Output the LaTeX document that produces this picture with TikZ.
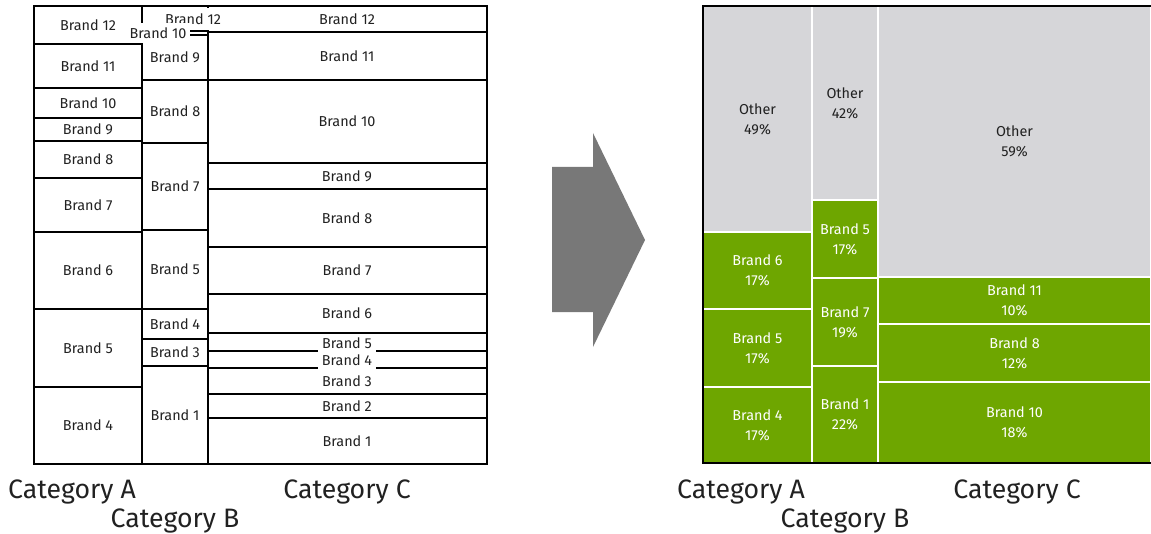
\documentclass[tikz,border=0pt]{standalone}
\usepackage{fontspec}
\setmainfont{Fira Sans}
\usetikzlibrary{calc}
\definecolor{BrandClr}{rgb}{0.43,0.65,0}
\definecolor{OtherClr}{rgb}{0.84,0.84,0.85}
\definecolor{ArrowClr}{rgb}{0.47,0.47,0.47}
\definecolor{TextClr}{rgb}{0.13,0.13,0.13}

\begin{document}
\begin{tikzpicture}[x=0.75pt,y=-0.75pt,
  box/.style={line width=1.5pt},
  lbl/.style={font=\fontsize{10.8}{13}\selectfont,text=TextClr,inner sep=0pt},
  cut/.style={lbl,fill=white,inner xsep=3pt},
  cell/.style={draw=white,line width=1.5pt},
  val/.style={font=\fontsize{10.8}{15}\selectfont,align=center},
  cat/.style={font=\fontsize{20}{22}\selectfont,text=TextClr,anchor=base}]
\useasboundingbox (0,0) rectangle (1151,534);

% before: brands of each category
\foreach \ya/\yb/\txt [count=\i] in {6/44/Brand 12,44/88/Brand 11,88/118/Brand 10,
    118/141/Brand 9,141/178/Brand 8,178/232/Brand 7,232/309/Brand 6,
    309/387/Brand 5,387/464/Brand 4}
  {\draw[box] (34,\ya) rectangle (142,\yb);
   \node[lbl] (a\i) at (88,{(\ya+\yb)/2}) {\txt};}

\foreach \ya/\yb/\txt [count=\i] in {35/80/Brand 9,80/143/Brand 8,143/230/Brand 7,
    230/309/Brand 5,309/339/Brand 4,339/366/Brand 3,366/464/Brand 1}
  {\draw[box] (142,\ya) rectangle (208,\yb);
   \node[lbl] (b\i) at (175,{(\ya+\yb)/2}) {\txt};}
\draw[box] (142,6) rectangle (208,31);
\draw[box] (142,31) rectangle (208,35);

\foreach \ya/\yb/\txt [count=\i] in {6/32/Brand 12,32/80/Brand 11,80/163/Brand 10,
    163/189/Brand 9,189/247/Brand 8,247/294/Brand 7,294/333/Brand 6,
    368/394/Brand 3,394/418/Brand 2,418/464/Brand 1}
  {\draw[box] (208,\ya) rectangle (487,\yb);
   \node[lbl] (c\i) at (347,{(\ya+\yb)/2}) {\txt};}
\draw[box] (208,333) rectangle (487,351);
\draw[box] (208,351) rectangle (487,368);

% labels that sit over the lines
\node[cut,minimum height=16.5pt] (b12) at (193,19) {Brand 12};
\node[cut,minimum height=14.5pt] (b10) at (158,33) {Brand 10};
\node[cut,minimum height=12pt] (c5) at (347,343) {Brand 5};
\node[cut,minimum height=13.5pt] (c4) at (347,360) {Brand 4};

\node[cat] (catA) at (72,498) {Category A};
\node[cat] (catB) at (175,527) {Category B};
\node[cat] (catC) at (347,498) {Category C};

% arrow
\fill[ArrowClr] (552,167) -- (593,167) -- (593,133) -- (645,240)
  -- (593,347) -- (593,312) -- (552,312) -- cycle;

% after: top brands and other
\foreach \xa/\xb/\ya/\yb/\clr/\tc/\txt/\pct [count=\i] in {
    703/812/6/232/OtherClr/TextClr/Other/49,
    703/812/232/309/BrandClr/white/Brand 6/17,
    703/812/309/387/BrandClr/white/Brand 5/17,
    703/812/387/463/BrandClr/white/Brand 4/17,
    812/878/6/200/OtherClr/TextClr/Other/42,
    812/878/200/278/BrandClr/white/Brand 5/17,
    812/878/278/366/BrandClr/white/Brand 7/19,
    812/878/366/463/BrandClr/white/Brand 1/22,
    878/1151/6/277/OtherClr/TextClr/Other/59,
    878/1151/277/324/BrandClr/white/Brand 11/10,
    878/1151/324/382/BrandClr/white/Brand 8/12,
    878/1151/382/463/BrandClr/white/Brand 10/18}
  {\filldraw[cell,fill=\clr] (\xa,\ya) rectangle (\xb,\yb);
   \node[val,text=\tc] (r\i) at ({(\xa+\xb)/2},{(\ya+\yb)/2}) {\txt\\\pct\%};}
\draw[box] (1152,6) -- (703,6) -- (703,463) -- (1152,463);

\node[cat] (rcatA) at (741,498) {Category A};
\node[cat] (rcatB) at (845,527) {Category B};
\node[cat] (rcatC) at (1017,498) {Category C};
\end{tikzpicture}
\end{document}
